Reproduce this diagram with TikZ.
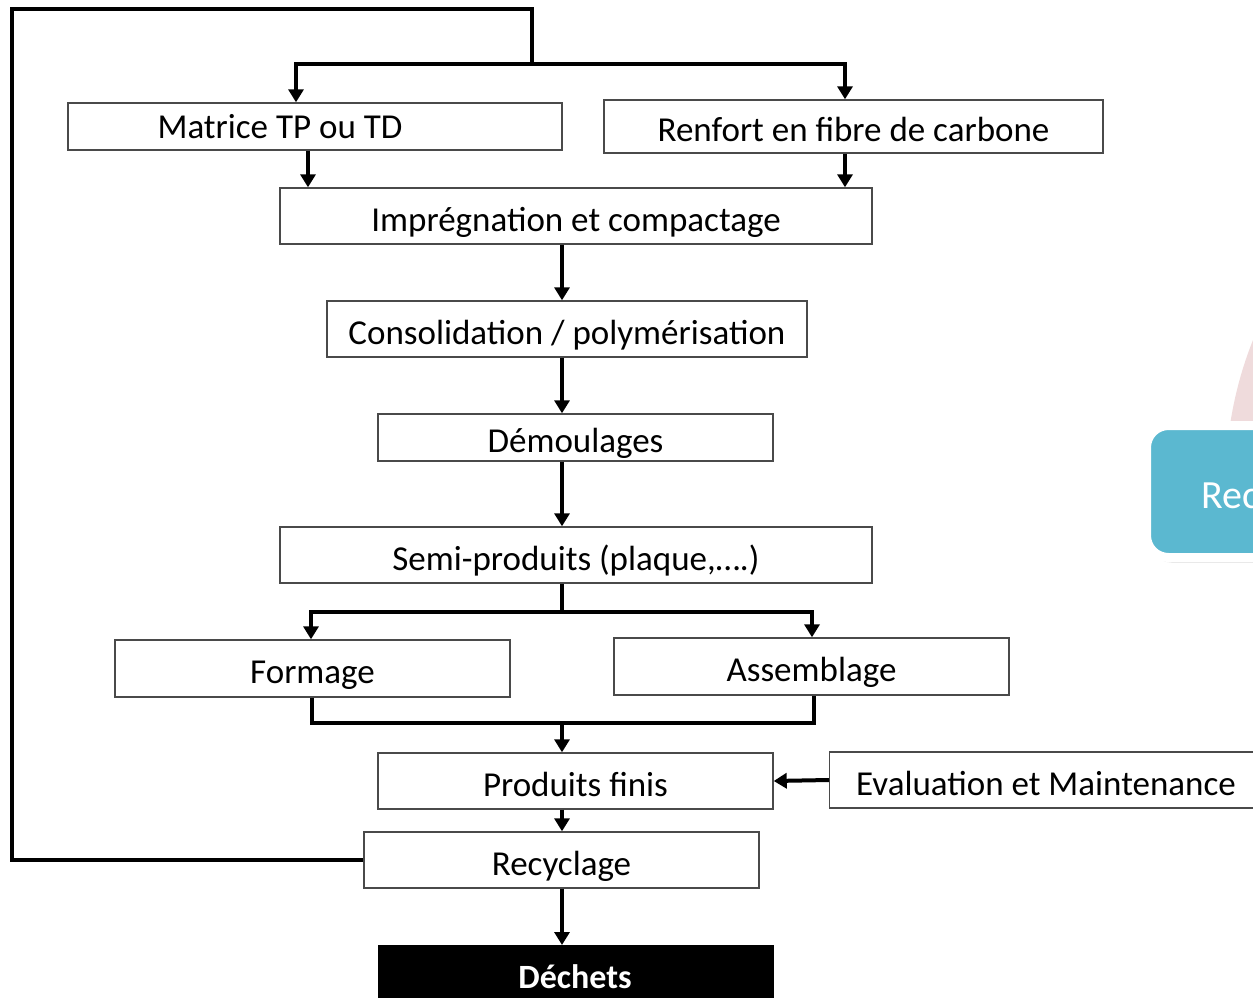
\documentclass[tikz,border=0pt]{standalone}
\usepackage{fontspec}
\setmainfont{Carlito}
\usetikzlibrary{arrows.meta,shadows}
\definecolor{boxline}{HTML}{4A4A4A}
\definecolor{tealbox}{HTML}{5BB8D0}
\definecolor{pinkarc}{HTML}{EFDBDC}
\begin{document}
\begin{tikzpicture}[x=1pt,y=-1pt,
  box/.style={draw=boxline, line width=1.4pt, fill=white, inner sep=0pt,
    font=\fontsize{35}{40}\selectfont, text height=30pt, text depth=0pt},
  conn/.style={line width=4pt, line join=miter},
  arr/.style={conn, -{Triangle[width=15pt,length=13pt]}},
  lbl/.style={font=\fontsize{35}{40}\selectfont, inner sep=0pt}]
\useasboundingbox (0,0) rectangle (1253,998);

% partial decoration at the right edge
\fill[pinkarc] (1253,340) .. controls (1243,365) and (1234,395) .. (1229,432) -- (1253,432) -- cycle;
\node[draw=white, line width=9pt, fill=tealbox, rounded corners=22pt,
      minimum width=300pt, minimum height=132pt, anchor=north west,
      drop shadow={shadow xshift=3pt, shadow yshift=-5pt, opacity=0.3}]
      (side) at (1142,421) {};
\node[anchor=base west, text=white, inner sep=0pt,
      font=\fontsize{40}{44}\selectfont] (sidetxt) at (1201,508) {Rec};

% process boxes
\node[box, minimum width=494pt, minimum height=47pt] (mat) at (315,126.5) {};
\node[lbl] (mattxt) at (280,127) {Matrice TP ou TD};
\node[box, minimum width=499pt, minimum height=53pt] (ren) at (853.5,126.5) {Renfort en fibre de carbone};
\node[box, minimum width=592pt, minimum height=56pt] (imp) at (576,216) {Imprégnation et compactage};
\node[box, minimum width=480pt, minimum height=56pt] (con) at (567,329) {Consolidation / polymérisation};
\node[box, minimum width=395pt, minimum height=47pt] (dem) at (575.5,437.5) {Démoulages};
\node[box, minimum width=592pt, minimum height=56pt] (semi) at (576,555) {Semi-produits (plaque,….)};
\node[box, minimum width=395pt, minimum height=57pt] (for) at (312.5,668.5) {Formage};
\node[box, minimum width=395pt, minimum height=57pt] (ass) at (811.5,666.5) {Assemblage};
\node[box, minimum width=395pt, minimum height=56pt] (pf) at (575.5,781) {Produits finis};
\node[box, minimum width=460pt, minimum height=56pt, anchor=west] (eval) at (829,780) {};
\node[lbl] (evaltxt) at (1046,783) {Evaluation et Maintenance};
\node[box, minimum width=395pt, minimum height=56pt] (rec) at (561.5,860) {Recyclage};
\node[draw=black, fill=black, minimum width=395pt, minimum height=70pt,
      anchor=north, inner sep=0pt] (dech) at (575.5,945) {};
\node[lbl, text=white, font=\fontsize{34}{38}\selectfont\bfseries] (dechtxt) at (575,977) {Déchets};

% junction points
\coordinate (ltop) at (12,9);
\coordinate (rtop) at (532,9);
\coordinate (split) at (532,64);
\coordinate (xm) at (296,0);
\coordinate (xr) at (845,0);
\coordinate (xm2) at (308,0);
\coordinate (xc) at (562,0);
\coordinate (sjoin) at (562,612);
\coordinate (xf) at (311,0);
\coordinate (xa) at (812,0);
\coordinate (mjoin) at (562,723);
\coordinate (xf2) at (312,0);
\coordinate (xa2) at (814,0);

% recycling loop back to the raw materials
\draw[conn] (rec.west) -- (12,860) -- (ltop) -- (rtop) -- (split);
\draw[arr] (split) -| (xm |- mat.north);
\draw[arr] (split) -| (xr |- ren.north);

% main chain
\draw[arr] (xm2 |- mat.south) -- (xm2 |- imp.north);
\draw[arr] (xr |- ren.south) -- (xr |- imp.north);
\draw[arr] (xc |- imp.south) -- (xc |- con.north);
\draw[arr] (xc |- con.south) -- (xc |- dem.north);
\draw[arr] (xc |- dem.south) -- (xc |- semi.north);
\draw[conn] (xc |- semi.south) -- (sjoin);
\draw[arr] (sjoin) -| (xf |- for.north);
\draw[arr] (sjoin) -| (xa |- ass.north);
\draw[conn] (xf2 |- for.south) |- (mjoin) -| (xa2 |- ass.south);
\draw[arr] (mjoin) -- (xc |- pf.north);
\draw[arr] (eval.west) -- (pf.east);
\draw[arr] (xc |- pf.south) -- (xc |- rec.north);
\draw[arr] (xc |- rec.south) -- (xc |- dech.north);
\end{tikzpicture}
\end{document}
